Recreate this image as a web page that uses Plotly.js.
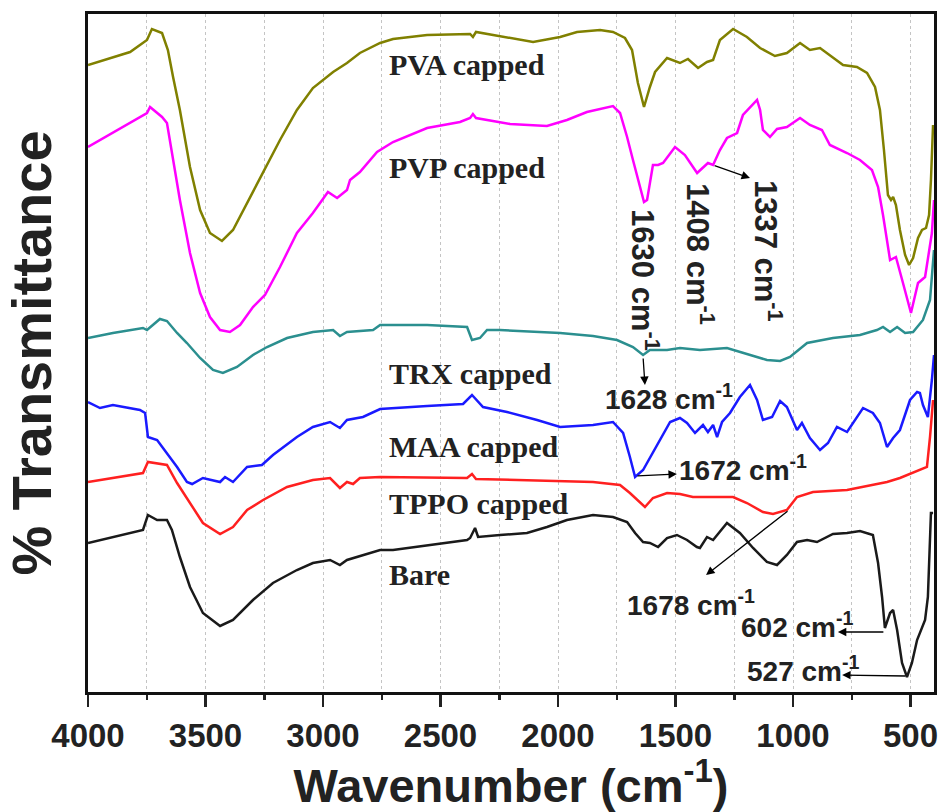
<!DOCTYPE html>
<html>
<head>
<meta charset="utf-8">
<script src="https://cdn.plot.ly/plotly-3.0.1.min.js"></script>
<style>html,body{margin:0;padding:0;background:#fff;}#chart{width:941px;height:812px;}</style>
</head>
<body>
<div id="chart"></div>
<script>
// Wavenumber (cm-1) and offset transmittance (arbitrary units)
const pvaWn = [4000,3894,3821,3749,3728,3685,3660,3638,3609,3566,3523,3481,3430,3383,3323,3247,3183,3111,3043,2957,2898,2843,2757,2702,2557,2374,2362,2349,2247,2106,1991,1919,1821,1766,1715,1685,1660,1634,1609,1587,1536,1481,1447,1404,1366,1340,1311,1255,1196,1140,1077,1026,970,928,885,830,787,728,685,651,630,613,596,583,574,562,545,523,506,489,468,451,434,421,413,404];
const pvaT  = [627,635,640,652,663,659,642,615,582,525,482,459,451,462,489,522,552,582,604,620,629,639,649,653,657,658,655,660,656,650,655,660,662,660,654,642,609,585,605,620,634,629,633,624,630,632,652,663,655,644,636,639,649,642,644,634,627,625,619,605,582,542,497,492,495,487,462,437,427,434,454,462,464,477,512,567];

const pvpWn = [4000,3894,3821,3749,3736,3685,3664,3638,3609,3566,3523,3481,3438,3396,3353,3298,3247,3183,3111,3043,2979,2940,2898,2885,2843,2770,2702,2557,2417,2374,2362,2349,2204,2047,1962,1877,1766,1736,1706,1681,1651,1634,1621,1596,1574,1553,1502,1460,1408,1383,1362,1340,1311,1281,1238,1213,1153,1140,1128,1098,1068,1026,970,928,877,843,770,715,664,638,617,587,562,532,498,468,438,409,400];
const pvpT  = [545,559,569,579,585,575,569,532,492,439,399,375,362,360,367,385,397,425,459,479,500,494,502,512,520,540,550,564,570,574,578,574,568,566,572,580,586,579,555,532,505,490,492,527,527,529,545,537,519,525,529,527,542,554,559,577,592,582,562,555,563,565,574,567,562,547,539,532,522,505,477,432,435,409,379,409,415,459,492];

const trxWn = [4000,3894,3766,3749,3694,3664,3621,3579,3523,3468,3426,3366,3298,3238,3153,3043,2957,2928,2898,2787,2757,2557,2387,2366,2332,2302,2247,1991,1851,1749,1681,1638,1609,1536,1481,1396,1281,1183,1111,1055,1013,940,830,715,643,617,587,557,523,489,447,417,400];
const trxT  = [354,359,364,362,373,371,359,349,334,322,319,325,337,345,354,360,362,356,360,362,367,367,365,352,354,362,362,359,356,352,345,337,342,342,344,342,344,337,332,331,335,349,354,357,362,365,360,365,359,360,372,392,442];

const maaWn = [4000,3949,3894,3821,3779,3757,3745,3706,3664,3621,3579,3557,3511,3438,3417,3383,3323,3260,3213,3111,3043,2970,2928,2898,2830,2757,2557,2404,2366,2319,2217,2089,1991,1851,1766,1723,1694,1672,1638,1566,1523,1481,1451,1417,1383,1362,1340,1323,1302,1268,1226,1183,1153,1128,1089,1055,1026,983,962,928,885,851,813,770,745,702,660,630,600,574,545,502,472,460,447,426,409,400];
const maaT  = [290,284,287,284,282,279,255,252,239,225,210,208,214,210,215,210,225,227,237,255,265,270,264,272,275,283,286,288,297,285,280,272,265,267,270,259,235,215,222,252,270,274,269,259,267,260,267,255,270,279,295,307,292,272,275,291,285,262,269,254,242,249,265,260,269,284,279,269,245,254,262,292,300,299,287,275,312,337];

const tppoWn = [4000,3894,3766,3745,3664,3621,3566,3511,3438,3383,3323,3255,3153,3043,2970,2928,2898,2872,2843,2757,2387,2366,2349,2132,1851,1736,1694,1630,1596,1536,1481,1426,1340,1255,1196,1128,1085,1026,983,915,770,660,600,545,489,430,417,404];
const tppoT  = [210,214,219,230,227,209,189,169,158,165,182,192,205,212,214,204,210,208,214,215,214,218,213,212,210,207,199,185,194,199,198,195,195,195,189,180,178,182,195,200,202,207,210,214,219,225,255,292];

const bareWn = [4000,3894,3766,3745,3706,3664,3643,3609,3566,3511,3438,3383,3298,3213,3111,3043,2970,2928,2898,2757,2702,2387,2374,2353,2340,2247,2132,2047,1962,1851,1766,1706,1672,1638,1609,1574,1536,1494,1451,1409,1396,1366,1340,1281,1226,1170,1111,1068,1026,983,940,898,830,770,715,660,638,621,609,587,574,557,536,515,494,472,438,426,413,404];
const bareT  = [149,155,162,177,172,172,162,135,105,79,66,72,92,109,122,129,132,127,132,142,142,152,154,164,155,157,159,165,172,177,175,170,159,150,149,145,154,157,152,145,144,155,152,169,159,144,130,127,137,150,152,150,158,159,161,157,129,95,64,79,82,62,29,15,29,52,72,95,179,179];

const seriesNames = ['PVA capped','PVP capped','TRX capped','MAA capped','TPPO capped','Bare'];
const seriesColors = ['#808000','#ff00ff','#2b8f8f','#1a1aff','#ff2020','#1a1a1a'];
const xTickVals = [4000,3500,3000,2500,2000,1500,1000,500];

const xs = [pvaWn,pvpWn,trxWn,maaWn,tppoWn,bareWn];
const ys = [pvaT,pvpT,trxT,maaT,tppoT,bareT];

const traces = xs.map((x,i)=>({
  x: x, y: ys[i], type:'scatter', mode:'lines', name: seriesNames[i],
  line:{color: seriesColors[i], width:2.5}, hoverinfo:'skip'
}));

const sans = 'Liberation Sans, Arial, sans-serif';
const serif = 'Liberation Serif, Times New Roman, serif';

const labelPos = [628,525,319,246,189,118];
const annotations = seriesNames.map((n,i)=>({
  x: 2728, y: labelPos[i], xref:'x', yref:'y', xanchor:'left', yanchor:'middle',
  text:'<b>'+n+'</b>', showarrow:false, font:{family:serif, size:30, color:'#222'}
}));

// peak labels
const peakTxt = (v)=>'<b>'+v+' cm<sup>-1</sup></b>';
[
  {t:'1630', x:1630, y:412},
  {t:'1408', x:1396, y:438},
  {t:'1337', x:1106, y:441}
].forEach(p=>annotations.push({x:p.x, y:p.y, xref:'x', yref:'y', text:peakTxt(p.t), textangle:90,
  showarrow:false, xanchor:'center', yanchor:'middle', font:{family:sans, size:31, color:'#222'}}));
[
  {t:'1628', x:1809, y:295},
  {t:'1672', x:1494, y:224},
  {t:'1678', x:1715, y:89},
  {t:'602', x:1230, y:67},
  {t:'527', x:1204, y:23}
].forEach(p=>annotations.push({x:p.x, y:p.y, xref:'x', yref:'y', text:peakTxt(p.t),
  showarrow:false, xanchor:'left', yanchor:'middle', font:{family:sans, size:28, color:'#222'}}));

// arrows: tail (ax,ay) -> head (x,y)
[
  {ax:1638, ay:335, x:1630, y:307},
  {ax:1668, ay:216, x:1494, y:218},
  {ax:1017, ay:182, x:1370, y:117},
  {ax:609, ay:60, x:809, y:60},
  {ax:515, ay:16, x:791, y:17},
  {ax:1340, ay:527, x:1183, y:514}
].forEach(a=>annotations.push({x:a.x, y:a.y, ax:a.ax, ay:a.ay, xref:'x', yref:'y', axref:'x', ayref:'y',
  text:'', showarrow:true, arrowhead:2, arrowsize:1.3, arrowwidth:1.3, arrowcolor:'#000', standoff:0, startstandoff:0}));

const layout = {
  width:941, height:812,
  margin:{l:88, r:7, t:14, b:120},
  paper_bgcolor:'#fff', plot_bgcolor:'#fff',
  showlegend:false,
  xaxis:{
    range:[4000,400], tickvals:xTickVals, ticktext:xTickVals.map(String),
    ticks:'outside', ticklen:12, tickwidth:2.5, tickcolor:'#222',
    showline:true, linewidth:3, linecolor:'#111', mirror:true,
    showgrid:false, zeroline:false,
    tickfont:{family:sans, size:33, color:'#222', weight:700},
    minor:{dtick:250, tick0:3750, ticks:'outside', ticklen:5, tickwidth:2.5, tickcolor:'#222', showgrid:true, gridcolor:'#c4c4c4', griddash:'dot', gridwidth:1},
    title:{text:'<b>Wavenumber (cm<sup>-1</sup>)</b>', font:{family:sans, size:47, color:'#222'}, standoff:2}
  },
  yaxis:{
    range:[0,678], showticklabels:false, ticks:'', showgrid:false, zeroline:false,
    showline:true, linewidth:3, linecolor:'#111', mirror:true,
    title:{text:'<b>% Transmittance</b>', font:{family:sans, size:56, color:'#222'}, standoff:18}
  },
  annotations: annotations
};

Plotly.newPlot('chart', traces, layout, {displayModeBar:false, staticPlot:true});
</script>
</body>
</html>
